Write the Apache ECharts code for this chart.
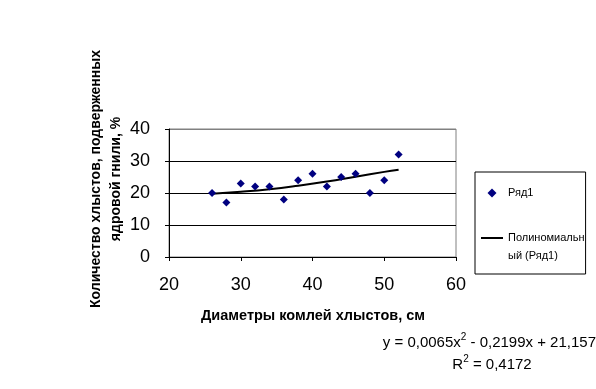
<!DOCTYPE html>
<html>
<head>
<meta charset="utf-8">
<script src="https://cdn.jsdelivr.net/npm/echarts@6/dist/echarts.min.js"></script>
<style>
html,body{margin:0;padding:0;background:#fff;}
#chart{width:596px;height:389px;}
</style>
</head>
<body>
<div id="chart"></div>
<script>
// Data
const diameters = [26, 28, 30, 32, 34, 36, 38, 40, 42, 44, 46, 48, 50, 52];
const rotShare  = [20, 17, 23, 22, 22, 18, 24, 26, 22, 25, 26, 20, 24, 32];
const trendX    = [26, 30, 34, 38, 42, 46, 50, 52];
const trendY    = [19.8, 20.4, 21.2, 22.3, 23.6, 25.1, 26.6, 27.3];
const seriesNames = ['Ряд1', 'Полиномиальный (Ряд1)'];
const legendLabels = ['Ряд1', ' \nПолиномиальн\nый (Ряд1)'];
const xTitle = 'Диаметры комлей хлыстов, см';
const yTitle = 'Количество хлыстов, подверженных\nядровой гнили, %';
const eqLine1 = '{a|y = 0,0065x}{s|2}{a| - 0,2199x + 21,157}';
const eqLine2 = '{a|R}{s|2}{a| = 0,4172}';

const font = '"Liberation Sans", Arial, sans-serif';
const chart = echarts.init(document.getElementById('chart'), null, {renderer: 'canvas'});

const eqRich = {
  a: {fontSize: 15, fontFamily: font, color: '#000', lineHeight: 18, verticalAlign: 'bottom'},
  s: {fontSize: 10, fontFamily: font, color: '#000', lineHeight: 10, verticalAlign: 'top'}
};

const option = {
  backgroundColor: '#fff',
  animation: false,
  textStyle: {fontFamily: font},
  grid: {
    left: 169, right: 140, top: 129, bottom: 132,
    show: true, borderColor: '#808080', borderWidth: 1, backgroundColor: '#fff'
  },
  xAxis: {
    type: 'value', min: 20, max: 60, interval: 10,
    axisLine: {show: true, onZero: false, lineStyle: {color: '#000', width: 1}},
    axisTick: {show: true, inside: false, length: 4, lineStyle: {color: '#000'}},
    axisLabel: {color: '#000', fontSize: 18, fontFamily: font, margin: 19},
    splitLine: {show: false}
  },
  yAxis: {
    type: 'value', min: 0, max: 40, interval: 10,
    axisLine: {show: true, onZero: false, lineStyle: {color: '#000', width: 1}},
    axisTick: {show: true, inside: false, length: 4, lineStyle: {color: '#000'}},
    axisLabel: {color: '#000', fontSize: 18, fontFamily: font, margin: 19},
    splitLine: {show: true, lineStyle: {color: ['#000', '#000', '#000', '#000', '#808080'], width: 1}}
  },
  legend: {
    orient: 'vertical',
    left: 475, top: 172,
    padding: [12, 1, 9, 6],
    itemGap: 9,
    itemWidth: 22, itemHeight: 9,
    symbolKeepAspect: true,
    borderColor: '#000', borderWidth: 1,
    backgroundColor: '#fff',
    textStyle: {fontSize: 11, fontFamily: font, color: '#000', lineHeight: 18},
    formatter: function (name) { return legendLabels[seriesNames.indexOf(name)]; },
    data: [
      {name: seriesNames[0], icon: 'path://M4,0 L8,4 L4,8 L0,4 Z', symbolKeepAspect: true,
       itemStyle: {color: '#000080', opacity: 1}},
      {name: seriesNames[1], icon: 'path://M0,0 L22,0 L22,2 L0,2 Z', symbolKeepAspect: true,
       itemStyle: {color: '#000'}}
    ]
  },
  series: [
    {
      name: seriesNames[0], type: 'scatter',
      data: diameters.map((d, i) => [d, rotShare[i]]),
      symbol: 'diamond', symbolSize: 8, symbolKeepAspect: true,
      itemStyle: {color: '#000080', opacity: 1}, z: 3
    },
    {
      name: seriesNames[1], type: 'line',
      data: trendX.map((d, i) => [d, trendY[i]]),
      smooth: true, symbol: 'none', showSymbol: false,
      lineStyle: {color: '#000', width: 2},
      itemStyle: {color: '#000'}, z: 2
    }
  ],
  graphic: [
    {
      type: 'text', x: 313, y: 316,
      style: {text: xTitle, font: 'bold 14.5px ' + font, fill: '#000', align: 'center', verticalAlign: 'middle'}
    },
    {
      type: 'text', x: 106, y: 179, rotation: Math.PI / 2,
      style: {text: yTitle, font: 'bold 14px ' + font, fill: '#000', align: 'center', verticalAlign: 'middle', lineHeight: 20}
    },
    {
      type: 'text', x: 596, y: 341,
      style: {text: eqLine1, rich: eqRich, align: 'right', verticalAlign: 'middle'}
    },
    {
      type: 'text', x: 492, y: 363,
      style: {text: eqLine2, rich: eqRich, align: 'center', verticalAlign: 'middle'}
    }
  ]
};
chart.setOption(option);
</script>
</body>
</html>
